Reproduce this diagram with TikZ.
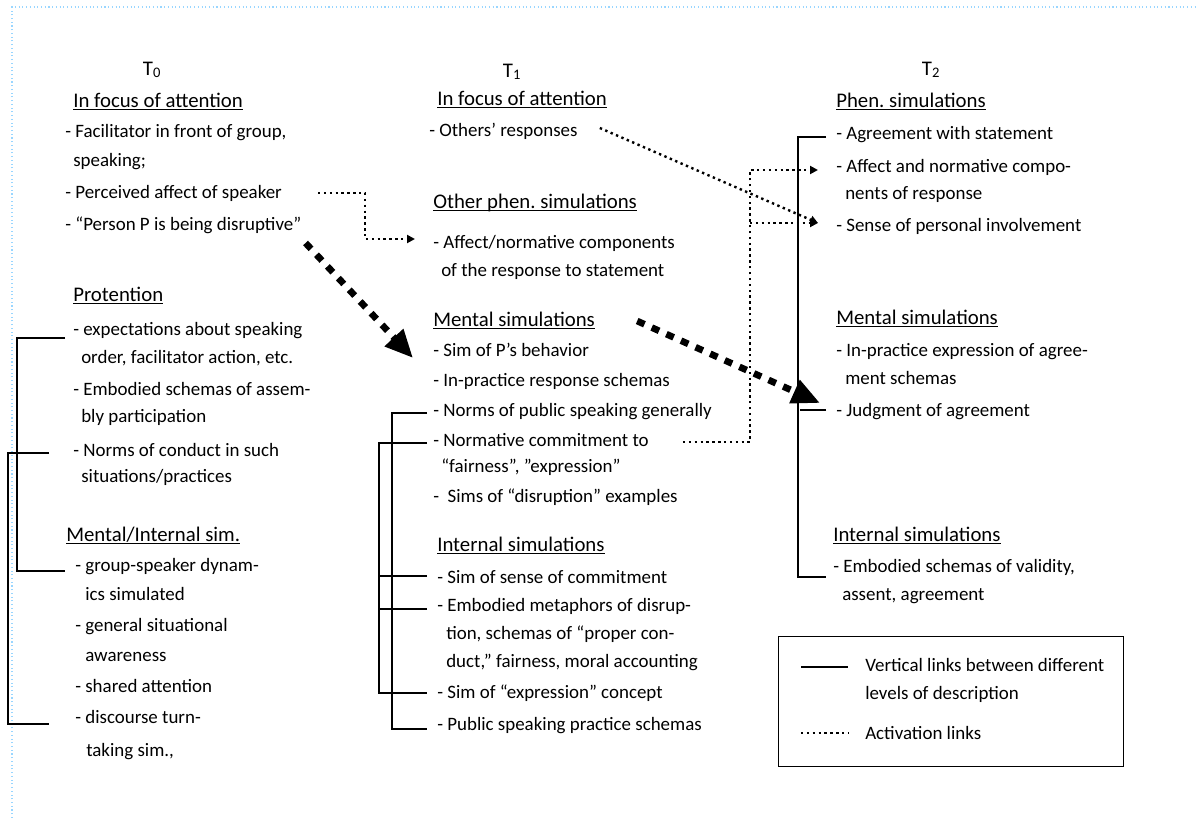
\documentclass[tikz,border=0pt]{standalone}
\usepackage{fontspec}
\setmainfont{Carlito}
\usetikzlibrary{
  calc,
  positioning,
  arrows.meta
}
\newcommand\heading[1]{\underline{\smash{#1}}}
\frenchspacing

\begin{document}
\begin{tikzpicture}[x=0.75pt, y=-0.75pt,
    txt/.style = {anchor=base west, inner sep=0pt, font=\fontsize{14.2}{17}\selectfont},
    head/.style = {anchor=base west, inner sep=0pt, font=\fontsize{15.6}{19}\selectfont},
    tlabel/.style = {anchor=base, inner sep=0pt, font=\fontsize{15.6}{19}\selectfont},
    vlink/.style = {line width=2pt},
    dotline/.style = {line width=1.8pt, dash pattern=on 1.8pt off 2.6pt},
    alink/.style = {dotline, -{Triangle[length=6pt,width=6pt]}},
    bigarrow/.style = {line width=5pt, dash pattern=on 6pt off 6pt, -{Triangle[length=21pt,width=18pt]}}
  ]
  \useasboundingbox (0,0) rectangle (1197,818);
  \draw[blue!40!cyan!40, line width=0.8pt, dotted] (12,818) -- (12,7) -- (1197,7);

  \node[tlabel] (t0) at (152,75) {T\textsubscript{0}};
  \node[tlabel] (t1) at (512,77) {T\textsubscript{1}};
  \node[tlabel] (t2) at (931,75) {T\textsubscript{2}};

  \node[head] (h0a) at (73,107) {\heading{In focus of attention}};
  \node[txt] (f1) at (65,137) {- Facilitator in front of group,};
  \node[txt] (f1b) at (73,166) {speaking;};
  \node[txt] (f2) at (65,198) {- Perceived affect of speaker};
  \node[txt] (f3) at (65,230) {- “Person P is being disruptive”};
  \node[head] (h0b) at (73,301) {\heading{Protention}};
  \node[txt] (p1) at (73,335) {- expectations about speaking};
  \node[txt] (p1b) at (81,363) {order, facilitator action, etc.};
  \node[txt] (p2) at (73,395) {- Embodied schemas of assem-};
  \node[txt] (p2b) at (81,422) {bly participation};
  \node[txt] (p3) at (73,456) {- Norms of conduct in such};
  \node[txt] (p3b) at (81,482) {situations/practices};
  \node[head] (h0c) at (66,541) {\heading{Mental/Internal sim.}};
  \node[txt] (m1) at (75,571) {- group-speaker dynam-};
  \node[txt] (m1b) at (85,600) {ics simulated};
  \node[txt] (m2) at (75,631) {- general situational};
  \node[txt] (m2b) at (85,661) {awareness};
  \node[txt] (m3) at (75,692) {- shared attention};
  \node[txt] (m4) at (75,723) {- discourse turn-};
  \node[txt] (m4b) at (86,756) {taking sim.,};

  \node[head] (h1a) at (437,105) {\heading{In focus of attention}};
  \node[txt] (o1) at (429,136) {- Others’ responses};
  \node[head] (h1b) at (433,208) {\heading{Other phen. simulations}};
  \node[txt] (af1) at (433,248) {- Affect/normative components};
  \node[txt] (af1b) at (441,276) {of the response to statement};
  \node[head] (h1c) at (433,326) {\heading{Mental simulations}};
  \node[txt] (ms1) at (433,356) {- Sim of P’s behavior};
  \node[txt] (ms2) at (433,386) {- In-practice response schemas};
  \node[txt] (ms3) at (433,416) {- Norms of public speaking generally};
  \node[txt] (ms4) at (433,446) {- Normative commitment to};
  \node[txt] (ms4b) at (441,472) {“fairness”, ”expression”};
  \node[txt] (ms5) at (433,502) {- \ Sims of “disruption” examples};
  \node[head] (h1d) at (437,551) {\heading{Internal simulations}};
  \node[txt] (is1) at (437,583) {- Sim of sense of commitment};
  \node[txt] (is2) at (437,611) {- Embodied metaphors of disrup-};
  \node[txt] (is2b) at (446,639) {tion, schemas of “proper con-};
  \node[txt] (is2c) at (446,667) {duct,” fairness, moral accounting};
  \node[txt] (is3) at (437,698) {- Sim of “expression” concept};
  \node[txt] (is4) at (437,730) {- Public speaking practice schemas};

  \node[head] (h2a) at (836,107) {\heading{Phen. simulations}};
  \node[txt] (ag) at (836,139) {- Agreement with statement};
  \node[txt] (an1) at (836,172) {- Affect and normative compo-};
  \node[txt] (an1b) at (845,199) {nents of response};
  \node[txt] (sp) at (836,231) {- Sense of personal involvement};
  \node[head] (h2b) at (836,324) {\heading{Mental simulations}};
  \node[txt] (ip1) at (836,356) {- In-practice expression of agree-};
  \node[txt] (ip1b) at (845,384) {ment schemas};
  \node[txt] (jd) at (836,416) {- Judgment of agreement};
  \node[head] (h2c) at (833,541) {\heading{Internal simulations}};
  \node[txt] (es1) at (833,572) {- Embodied schemas of validity,};
  \node[txt] (es1b) at (842,600) {assent, agreement};

  \draw[vlink] ($(p1.base west)+(-8,3)$) -- ++(-48,0) |- ($(m1.base west)+(-10,0)$);
  \draw[vlink] ($(p3.base west)+(-24,-3)$) -- ++(-41,0) |- ($(m4.base west)+(-26,1)$);
  \draw[vlink] ($(ms3.base west)+(-6,-3)$) -- ++(-35,0) |- ($(is4.base west)+(-10,-1)$);
  \draw[vlink] ($(ms4.base west)+(-6,-3)$) -- ++(-48,0) |- ($(is3.base west)+(-10,-5)$);
  \draw[vlink] ($(is1.base west)+(-10,-7)$) -- ++(-48,0);
  \draw[vlink] ($(is2.base west)+(-10,-2)$) -- ++(-48,0);
  \draw[vlink] ($(ag.base west)+(-10,-2)$) -- ++(-28,0) |- ($(es1.base west)+(-7,5)$);
  \draw[vlink] ($(jd.base west)+(-10,-6)$) -- ++(-26,0);

  \draw[alink] ($(f2.base east)+(36,-5)$) -- ++(47,0) |- ($(af1.base west)+(-18,-9)$);
  \coordinate (spin) at ($(sp.base west)+(-18,-8)$);
  \draw[alink] ($(o1.base east)+(22,-8)$) -- (spin);
  \draw[alink] ($(ms4.base east)+(34,-4)$) -- ++(67,0) coordinate (actb) |- ($(an1.base west)+(-18,-2)$);
  \draw[alink] (actb |- spin) -- (spin);

  \draw[bigarrow] ($(f3.base east)+(4,13)$) -- ($(h1c.base west)+(-20,32)$);
  \draw[bigarrow] ($(h1c.base east)+(42,-5)$) -- ($(jd.base west)+(-16,-13)$);

  \node[draw, line width=0.8pt, inner sep=0pt, minimum width=258.75pt, minimum height=97.5pt, anchor=north west] (key) at (778,636) {};
  \draw[vlink] ($(key.north west)+(23,31)$) -- ++(47,0);
  \node[txt] (k1) at ($(key.north west)+(87,35)$) {Vertical links between different};
  \node[txt] (k1b) at ($(key.north west)+(87,63)$) {levels of description};
  \draw[dotline] ($(key.north west)+(23,97)$) -- ++(48,0);
  \node[txt] (k2) at ($(key.north west)+(87,103)$) {Activation links};
\end{tikzpicture}
\end{document}
